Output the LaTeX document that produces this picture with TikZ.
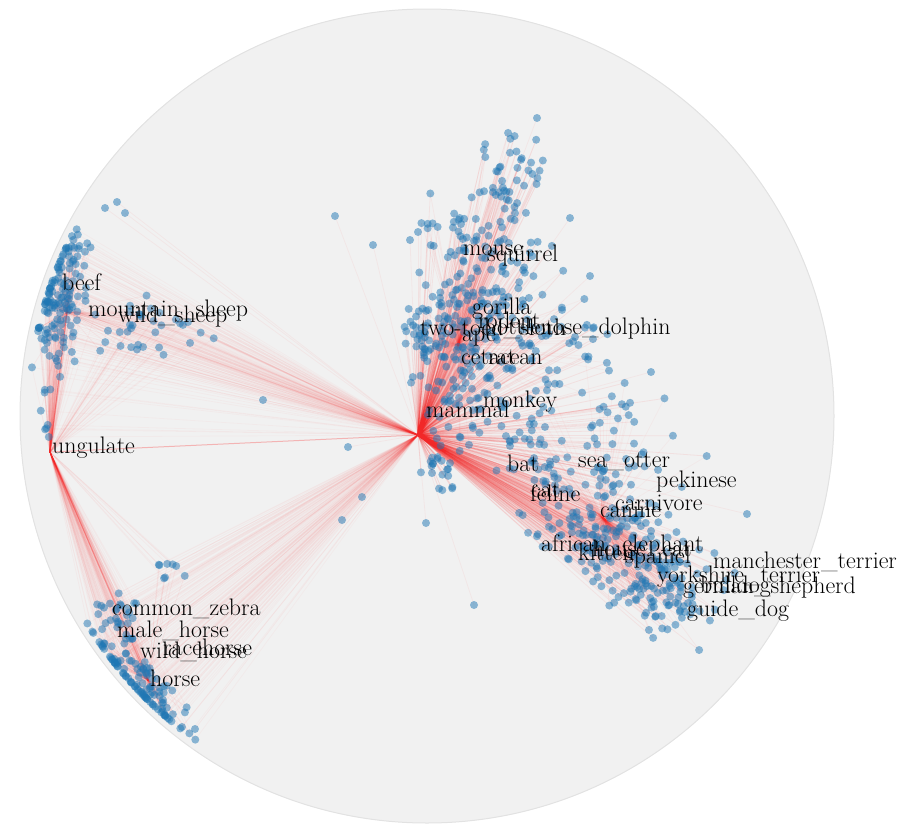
\documentclass[tikz,border=0pt]{standalone}
\usepackage{fontspec}
\definecolor{dotblue}{RGB}{31,119,180}
\definecolor{edgered}{RGB}{250,40,40}
\definecolor{diskgray}{RGB}{241,241,241}
\definecolor{diskedge}{RGB}{226,226,226}
\tikzset{
  dot/.style={circle,fill=dotblue,fill opacity=0.5,inner sep=0pt,minimum size=8bp},
  edgeA/.style={edgered,draw opacity=0.05,line width=0.8bp},
  edgeB/.style={edgered,draw opacity=0.035,line width=0.8bp},
  edgeC/.style={edgered,draw opacity=0.03,line width=0.8bp},
  strong/.style={edgered,draw opacity=0.3,line width=1bp},
  lab/.style={anchor=base west,inner sep=0pt,text=black,font=\fontsize{24}{28}\selectfont}
}
% #1 id, #2 hub1, #3 hub2, #4 count, #5 cx, #6 cy, #7 angle, #8 sd major, #9 sd minor
\newcommand\mycluster[9]{%
  \foreach \i in {1,...,#4}{%
    \pgfmathsetmacro\ua{#8*(rand+rand+rand)}%
    \pgfmathsetmacro\ub{#9*(rand+rand+rand)}%
    \pgfmathsetmacro\px{#5+\ua*cos(#7)-\ub*sin(#7)}%
    \pgfmathsetmacro\py{#6+\ua*sin(#7)+\ub*cos(#7)}%
    \pgfmathsetmacro\dd{max(1,veclen(\px-427,\py-416))}%
    \pgfmathsetmacro\ff{min(1,398/\dd)}%
    \pgfmathsetmacro\qx{427+(\px-427)*\ff}%
    \pgfmathsetmacro\qy{416+(\py-416)*\ff}%
    \coordinate (#1-\i) at (\qx,\qy);
    \draw[edgeA] (#2) -- (#1-\i);
    \draw[edgeB] (#3) -- (#1-\i);
    \draw[edgeC] (mammal) -- (#1-\i);
  }%
}
\newcommand\mydots[2]{%
  \foreach \i in {1,...,#2}{\node[dot] (d#1-\i) at (#1-\i) {};}%
}
\begin{document}
\begin{tikzpicture}[x=1bp,y=-1bp]
\useasboundingbox (0,0) rectangle (900,833);
\pgfmathsetseed{7}
\fill[diskgray,draw=diskedge,line width=1bp] (427,416) circle[radius=407];
% hubs
\coordinate (mammal) at (418,435);
\coordinate (ungulate) at (50,452);
\coordinate (sheephub) at (67,312);
\coordinate (horsehub) at (148,680);
\coordinate (caninehub) at (603,518);
\coordinate (apehub) at (458,345);
\draw[strong] (mammal) -- (ungulate);
\draw[strong] (ungulate) -- (sheephub);
\draw[strong] (ungulate) -- (horsehub);
\draw[strong] (mammal) -- (caninehub);
% top column (primates, rodents, cetaceans)
\mycluster{ta}{mammal}{apehub}{170}{470}{300}{-72}{48}{26}
\mycluster{tb}{apehub}{mammal}{45}{508}{180}{-75}{22}{16}
\mycluster{tc}{mammal}{apehub}{55}{548}{345}{20}{35}{32}
\mycluster{td}{apehub}{mammal}{35}{425}{335}{0}{16}{14}
\mycluster{te}{mammal}{mammal}{20}{440}{468}{60}{12}{8}
\mycluster{tf}{mammal}{apehub}{50}{465}{395}{-60}{25}{20}
\mycluster{tg}{apehub}{mammal}{20}{455}{225}{0}{18}{12}
% carnivores
\mycluster{da}{caninehub}{mammal}{210}{615}{545}{36}{50}{26}
\mycluster{db}{mammal}{caninehub}{45}{605}{430}{20}{40}{28}
\mycluster{dc}{caninehub}{mammal}{55}{668}{596}{36}{25}{18}
\mycluster{dd}{mammal}{caninehub}{30}{530}{452}{20}{20}{16}
% ungulates: sheep / cattle
\mycluster{sa}{sheephub}{ungulate}{115}{58}{305}{90}{28}{12}
\mycluster{sb}{sheephub}{ungulate}{35}{140}{335}{8}{30}{16}
\mycluster{sc}{sheephub}{ungulate}{20}{75}{252}{-40}{12}{8}
\mycluster{sd}{sheephub}{ungulate}{8}{45}{412}{90}{18}{4}
% horses
\mycluster{ha}{horsehub}{ungulate}{110}{140}{684}{47}{34}{12}
\mycluster{hb}{horsehub}{ungulate}{30}{122}{622}{70}{14}{10}
\mycluster{hc}{horsehub}{ungulate}{8}{170}{572}{80}{10}{6}
% isolated points
\foreach \n/\x/\y in {s1/335/216, s2/373/245, s3/410/240, s4/418/232, s5/348/447, s6/362/497, s7/342/520, s8/263/400, s9/426/523, s10/474/605, s11/537/118, s12/182/727, s13/195/729, s14/105/208, s15/125/213, s16/117/202, s18/570/218, s19/590/276, s20/651/372, s21/747/514}{
  \coordinate (\n) at (\x,\y);
  \draw[edgeA] (mammal) -- (\n);
}
% dots on top of all edges
\mydots{ta}{170}\mydots{tb}{45}\mydots{tc}{55}\mydots{td}{35}\mydots{te}{20}\mydots{tf}{50}\mydots{tg}{20}
\mydots{da}{210}\mydots{db}{45}\mydots{dc}{55}\mydots{dd}{30}
\mydots{sa}{115}\mydots{sb}{35}\mydots{sc}{20}\mydots{sd}{8}
\mydots{ha}{110}\mydots{hb}{30}\mydots{hc}{8}
\foreach \n in {s1,s2,s3,s4,s5,s6,s7,s8,s9,s10,s11,s12,s13,s14,s15,s16,s18,s19,s20,s21}{\node[dot] (d\n) at (\n) {};}
% labels
\node[lab] (l1) at (426,417) {mammal};
\node[lab] (l2) at (483,407) {monkey};
\node[lab] (l3) at (463,255) {mouse};
\node[lab] (l4) at (487,261) {squirrel};
\node[lab] (l5) at (472,314) {gorilla};
\node[lab] (l6) at (478,328) {rodent};
\node[lab] (l7) at (484,334) {bottlenose\_dolphin};
\node[lab] (l8) at (420,335) {two-toed\_sloth};
\node[lab] (l9) at (462,341) {ape};
\node[lab] (l10) at (461,364) {cetacean};
\node[lab] (l11) at (488,364) {rat};
\node[lab] (l12) at (507,471) {bat};
\node[lab] (l13) at (578,467) {sea\_otter};
\node[lab] (l14) at (656,487) {pekinese};
\node[lab] (l15) at (530,501) {feline};
\node[lab] (l16) at (531,497) {cat};
\node[lab] (l17) at (615,510) {carnivore};
\node[lab] (l18) at (600,517) {canine};
\node[lab] (l19) at (541,551) {african\_elephant};
\node[lab] (l20) at (578,560) {kitten};
\node[lab] (l21) at (592,556) {house\_cat};
\node[lab] (l22) at (625,563) {spaniel};
\node[lab] (l23) at (713,568) {manchester\_terrier};
\node[lab] (l24) at (657,582) {yorkshire\_terrier};
\node[lab] (l25) at (683,593) {german\_shepherd};
\node[lab] (l26) at (700,592) {bulldog};
\node[lab] (l27) at (687,616) {guide\_dog};
\node[lab] (l28) at (62,290) {beef};
\node[lab] (l29) at (88,316) {mountain\_sheep};
\node[lab] (l30) at (118,322) {wild\_sheep};
\node[lab] (l31) at (52,453) {ungulate};
\node[lab] (l32) at (112,615) {common\_zebra};
\node[lab] (l33) at (117,637) {male\_horse};
\node[lab] (l34) at (140,658) {wild\_horse};
\node[lab] (l35) at (163,655) {racehorse};
\node[lab] (l36) at (150,686) {horse};
\end{tikzpicture}
\end{document}
